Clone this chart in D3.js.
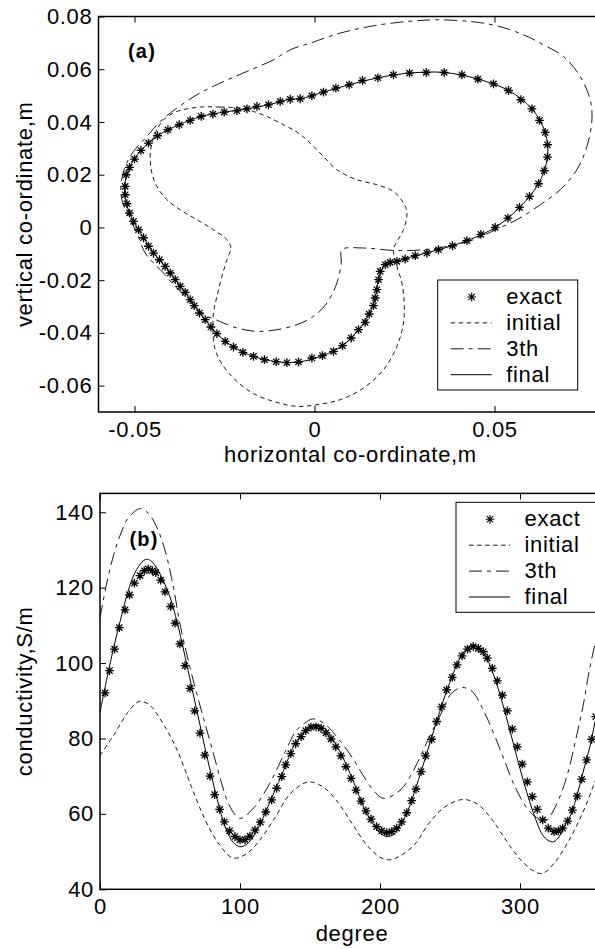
<!DOCTYPE html>
<html><head><meta charset="utf-8">
<script src="https://cdn.jsdelivr.net/npm/d3@7"></script>
<style>
body{margin:0;background:#fff}
svg{display:block}
text{font-family:"Liberation Sans",Arial,Helvetica,sans-serif;fill:#000}
</style></head>
<body>
<svg id="c" width="595" height="949"></svg>
<script>
// ---------- Panel (a): boundary contours (m) ----------
const exactX = [-0.00675,-0.00953,-0.01278,-0.0160,-0.01878,-0.02156,-0.02508,-0.02822,-0.03147,-0.03453,
-0.03758,-0.04072,-0.04361,-0.04611,-0.04822,-0.05,-0.05139,-0.05231,-0.05258,-0.05258,
-0.05211,-0.05139,-0.05028,-0.04889,-0.0475,-0.04611,-0.04472,-0.04306,-0.04147,-0.04008,
-0.03869,-0.03731,-0.03592,-0.03453,-0.03342,-0.03194,-0.03036,-0.02878,-0.02711,-0.02481,
-0.0225,-0.01989,-0.01694,-0.01389,-0.01064,-0.00767,-0.00444,-0.00072,0.00222,0.00528,
0.00778,0.01019,0.01222,0.01408,0.01519,0.01639,0.01686,0.01733,0.01778,0.01825,
0.01964,0.02103,0.02289,0.02519,0.02797,0.03122,0.03444,0.03833,0.04233,0.04622,
0.0502,0.05372,0.05694,0.05972,0.06222,0.06381,0.06472,0.06472,0.06408,0.0625,
0.06039,0.05733,0.05389,0.04972,0.04539,0.04094,0.03603,0.03103,0.02639,0.02194,
0.01761,0.01333,0.00964,0.00594,0.0025,-0.00072,-0.00397];
const exactY = [0.04861,0.04777,0.04652,0.04588,0.045,0.04425,0.04375,0.043,0.04209,0.04057,
0.03894,0.03704,0.03477,0.032,0.02919,0.02593,0.02275,0.01998,0.01555,0.0124,
0.00899,0.00546,0.00227,-0.00087,-0.00391,-0.00713,-0.00971,-0.01225,-0.01479,-0.01729,
-0.01983,-0.02237,-0.02464,-0.02741,-0.02969,-0.03245,-0.035,-0.03776,-0.0403,-0.04322,
-0.04535,-0.04739,-0.04891,-0.05016,-0.05092,-0.0513,-0.05103,-0.04952,-0.04864,-0.04701,
-0.04485,-0.04193,-0.03879,-0.03602,-0.03283,-0.02969,-0.02677,-0.02362,-0.01983,-0.01668,
-0.01414,-0.01327,-0.01289,-0.01198,-0.01073,-0.00971,-0.00846,-0.00694,-0.00504,-0.00265,
0,0.00356,0.00758,0.01175,0.01657,0.0215,0.02669,0.03136,0.03602,0.04057,
0.045,0.04842,0.05194,0.05448,0.05627,0.0579,0.05877,0.05877,0.05854,0.0579,
0.05676,0.05573,0.0541,0.05285,0.05134,0.04993,0.0488];

const initialX = [-0.03175,-0.02619,-0.02064,-0.01694,-0.01322,-0.00861,-0.00444,-0.00119,0.0025,0.00622,
0.01178,0.01733,0.02194,0.02472,0.02567,0.02472,0.02242,0.02194,0.02289,0.02428,
0.02492,0.02472,0.02289,0.01917,0.01361,0.00714,0.00067,-0.00489,-0.01139,-0.01694,
-0.02156,-0.02528,-0.02758,-0.02822,-0.02806,-0.02711,-0.02572,-0.02433,-0.02322,-0.02433,
-0.02806,-0.03267,-0.03731,-0.041,-0.04378,-0.04517,-0.04564,-0.04517,-0.04378,-0.04194,
-0.03822];
const initialY = [0.04565,0.04565,0.04527,0.04398,0.04209,0.03894,0.03579,0.032,0.02692,0.02188,
0.01809,0.01619,0.01365,0.00925,0.00546,-0.00087,-0.00656,-0.00921,-0.01479,-0.02108,
-0.02866,-0.03625,-0.04512,-0.05395,-0.06089,-0.06533,-0.06722,-0.06787,-0.06597,-0.06305,
-0.05839,-0.0527,-0.04637,-0.03879,-0.03245,-0.02616,-0.01858,-0.01225,-0.00781,-0.00466,
-0.00087,0.00292,0.00671,0.0105,0.01555,0.02063,0.02692,0.032,0.03704,0.04083,
0.04398];

const thirdX = [-0.00675,-0.01139,-0.01878,-0.02619,-0.03267,-0.03822,-0.04286,-0.04656,-0.05028,-0.05258,
-0.05378,-0.0535,-0.05167,-0.04933,-0.04703,-0.04472,-0.04194,-0.03917,-0.03592,-0.03314,
-0.03036,-0.02806,-0.02528,-0.02156,-0.016,-0.01044,-0.00489,-0.00028,0.00344,0.00622,
0.00742,0.00761,0.01361,0.02194,0.03028,0.03678,0.04417,0.04972,0.05622,0.06269,
0.06825,0.07289,0.07567,0.07706,0.07658,0.07381,0.06917,0.06361,0.05806,0.05067,
0.04325,0.034,0.02567,0.01639,0.00714,-0.00119];
const thirdY = [0.06737,0.06358,0.05915,0.05475,0.05031,0.04527,0.04019,0.0345,0.02882,0.02313,
0.01555,0.0105,0.00417,-0.00212,-0.00971,-0.0135,-0.01729,-0.02173,-0.02616,-0.03007,
-0.03348,-0.03462,-0.03625,-0.03814,-0.03943,-0.03879,-0.03689,-0.03374,-0.02866,-0.02108,
-0.0135,-0.00846,-0.00781,-0.00872,-0.00846,-0.0072,-0.00466,-0.00125,0.00292,0.00861,
0.01429,0.02188,0.03071,0.04083,0.04842,0.05725,0.06483,0.06927,0.07306,0.07647,
0.0781,0.07875,0.0781,0.07647,0.07371,0.06992];

const finalX = [-0.00675,-0.01278,-0.01878,-0.02508,-0.03147,-0.03758,-0.04361,-0.04822,-0.05139,-0.05275,
-0.05225,-0.05028,-0.0475,-0.04472,-0.04147,-0.03869,-0.03592,-0.03342,-0.03036,-0.02711,
-0.0225,-0.01694,-0.01064,-0.00444,0.00222,0.00778,0.01222,0.01519,0.01686,0.01778,
0.01964,0.02289,0.02797,0.03444,0.04233,0.0502,0.05694,0.06222,0.06472,0.06408,
0.06039,0.05389,0.04539,0.03603,0.02639,0.01761,0.00964,0.0025,-0.00397];
const finalY = [0.04861,0.04652,0.045,0.04375,0.04209,0.03894,0.03477,0.02919,0.02275,0.01555,
0.00899,0.00227,-0.00391,-0.00971,-0.01479,-0.01983,-0.02464,-0.02969,-0.035,-0.0403,
-0.04535,-0.04891,-0.05092,-0.05103,-0.04864,-0.04485,-0.03879,-0.03283,-0.02677,-0.01983,
-0.01414,-0.01289,-0.01073,-0.00846,-0.00504,0,0.00758,0.01657,0.02669,0.03602,
0.045,0.05194,0.05627,0.05877,0.05854,0.05676,0.0541,0.05134,0.0488];

const topXTicks = [-0.05, 0, 0.05];
const topXLabels = ["-0.05", "0", "0.05"];
const topYTicks = [-0.06, -0.04, -0.02, 0, 0.02, 0.04, 0.06, 0.08];
const topYLabels = ["-0.06", "-0.04", "-0.02", "0", "0.02", "0.04", "0.06", "0.08"];

// ---------- Panel (b): conductivity vs degree ----------
const exactDeg = [3.6,6.8,10.4,13.8,17.9,21.1,24.6,28.6,31.6,34.5,
37.4,39.8,43.4,46.4,50.5,53.6,57.1,60.7,64.3,67.6,
71.4,74.8,78.6,81.9,85.5,88.8,92.5,96.4,100,103.6,
107.1,110.7,114.5,118.4,122.6,126.2,129.8,132.7,136.3,139.8,
143.6,146.9,150.7,154.3,157.9,161.4,165,168.4,172.1,175.7,
179.3,182.9,186.4,190,193.6,197.6,201.2,204.8,208.4,211.9,
215.5,219.1,222.6,225.7,229.3,232.6,236.9,240.5,244.1,247.6,
251.6,255,258.6,262.6,266.6,270.2,273.8,276.6,280.2,283.8,
287.4,290.9,294.5,298.1,301.6,305.2,308.8,312.4,316.2,320.2,
324.3,327.4,330.5,334.1,337.4,340.9,344.1,347.6,351.2,354.1];
const exactVal = [92.1,98.0,103.7,109.4,114.1,118.1,121.2,123.2,124.5,125.0,
124.5,124.0,122.0,118.9,115.0,110.6,105.1,99.3,93.3,87.3,
81.4,75.6,70.0,65.1,61.2,57.9,55.5,54.0,53.1,53.2,
54.1,55.7,57.8,60.5,63.7,66.8,69.9,73.0,76.0,78.6,
80.5,82.1,83.0,83.1,82.7,81.5,79.9,77.8,75.4,72.5,
69.4,66.3,63.4,60.8,58.6,56.6,55.5,55.0,55.3,56.2,
57.9,60.3,63.5,66.6,71.2,75.4,79.8,84.5,88.4,92.9,
96.2,99.5,101.9,103.7,104.4,103.9,103.0,101.3,98.6,95.3,
91.5,87.3,82.5,77.8,73.2,68.5,64.6,61.2,58.4,56.2,
55.3,55.5,56.2,58.1,61.0,64.7,69.2,74.3,79.8,85.8];

const initDeg = [0,10,20,28,35,45,55,65,75,85,95,105,115,125,135,145,150,160,170,180,
190,200,207,215,225,235,245,255,261,270,280,290,300,310,316,325,335,345,355,360];
const initVal = [75.5,81,87,89.8,89,84,77,67.5,58.5,52,48.3,49.5,53.5,59,65,68,68.5,67,63,57.5,
52,48.5,47.8,49,52,57.5,61.5,63.5,63.8,62.5,58.5,53,48,44.8,44.2,47.2,53,60.5,70,75];

const thirdDeg = [0,5,10,15,20,29,35,40,46,52,57,63,69,75,81,87,92,100,110,118,
123,133,140,146,152,160,171,180,190,197,203,215,224,236,245,251,258,264,268,277,
287,296,306,313,319,324,330,335,340,345,350,355,360];
const thirdVal = [112,121.5,129,134.5,138.4,141,139.5,136.5,130.5,121,110.6,100.8,92,84,76,68,62.5,58.8,61.7,66,
69.3,77,82,84,85.2,84,79.6,75,69,65.5,64.1,66.5,71.6,81,87.6,92,93.5,93,91.5,85,
76,67.5,61,58.8,58.4,61,66,72,80,88.5,99,107,113];

const finalDeg = [0,5,10,15,20,25,30,33,36,40,45,50,55,60,65,70,75,80,85,90,
95,100,105,110,115,120,130,140,150,155,160,170,180,190,200,205,210,215,220,230,
240,250,260,267,275,280,285,290,295,300,305,310,316,320,324,328,332,336,340,345,350,355,360];
const finalVal = [87,96,104.5,112,119,124,126.8,127.5,127.2,125.5,122,117.5,111,103,94.5,86,77.5,69.5,62,56,
52.5,51.3,52,54.3,57.8,62,70.5,79,83.2,83.6,82.8,77.5,69.5,60.5,55,54,54.6,57.3,61,72,
84,95,103,104.8,102,98,92.5,86,79,72,65.5,59.8,54.5,53,52.6,54,57,59.5,64,71,78,87,96];

const botXTicks = [0, 100, 200, 300];
const botXLabels = ["0", "100", "200", "300"];
const botYTicks = [40, 60, 80, 100, 120, 140];
const botYLabels = ["40", "60", "80", "100", "120", "140"];

const legendNames = ["exact", "initial", "3th", "final"];

// ---------- drawing ----------
const svg = d3.select("#c");
const FONT = 22, LS = "0.7px";
const DASH_INIT = "4.5,3.5", DASH_THIRD = "13,5,4,5";
const starPath = "M-4.4,0H4.4M0,-4.4V4.4M-3.1,-3.1L3.1,3.1M-3.1,3.1L3.1,-3.1";

function zip(a, b) { return a.map((v, i) => [v, b[i]]); }

function panel(o) {
  const g = svg.append("g");
  const [x0, x1] = o.x.range(), [y1, y0] = o.y.range();
  g.append("clipPath").attr("id", o.id).append("rect")
    .attr("x", x0).attr("y", y0).attr("width", x1 - x0).attr("height", y1 - y0);
  const p = g.append("g").attr("clip-path", `url(#${o.id})`);
  const line = d3.line().x(d => o.x(d[0])).y(d => o.y(d[1])).curve(o.curve);
  p.append("path").attr("d", line(o.init)).attr("fill", "none").attr("stroke", "#000")
    .attr("stroke-width", 0.9).attr("stroke-dasharray", DASH_INIT);
  p.append("path").attr("d", line(o.third)).attr("fill", "none").attr("stroke", "#000")
    .attr("stroke-width", 0.9).attr("stroke-dasharray", DASH_THIRD);
  p.append("path").attr("d", line(o.fin)).attr("fill", "none").attr("stroke", "#000")
    .attr("stroke-width", 1);
  p.selectAll("path.star").data(o.exact).join("path").attr("class", "star")
    .attr("transform", d => `translate(${o.x(d[0])},${o.y(d[1])})`)
    .attr("d", starPath).attr("stroke", "#000").attr("stroke-width", 1.3).attr("fill", "none");

  const style = sel => {
    sel.select(".domain").remove();
    sel.attr("font-family", null).attr("font-size", null);
    sel.selectAll(".tick line").attr("stroke", "#000").attr("stroke-width", 1);
    sel.selectAll(".tick text").attr("font-size", FONT).attr("letter-spacing", LS).attr("fill", "#000");
  };
  g.append("g").attr("transform", `translate(0,${y1})`)
    .call(d3.axisBottom(o.x).tickValues(o.xt).tickFormat((d, i) => o.xl[i]).tickSize(-6).tickPadding(9)).call(style);
  g.append("g").attr("transform", `translate(0,${y0})`)
    .call(d3.axisTop(o.x).tickValues(o.xt).tickFormat("").tickSize(-6)).call(style);
  g.append("g").attr("transform", `translate(${x0},0)`)
    .call(d3.axisLeft(o.y).tickValues(o.yt).tickFormat((d, i) => o.yl[i]).tickSize(-6).tickPadding(6)).call(style);
  g.append("rect").attr("x", x0).attr("y", y0).attr("width", x1 - x0).attr("height", y1 - y0)
    .attr("fill", "none").attr("stroke", "#000").attr("stroke-width", 1.5);

  g.append("text").attr("x", (x0 + x1) / 2).attr("y", o.xlabY).attr("text-anchor", "middle")
    .attr("font-size", FONT).attr("letter-spacing", LS).text(o.xlab);
  g.append("text").attr("transform", `translate(32,${(y0 + y1) / 2}) rotate(-90)`).attr("text-anchor", "middle")
    .attr("font-size", FONT).attr("letter-spacing", LS).text(o.ylab);
  g.append("text").attr("x", o.tagX).attr("y", o.tagY).attr("font-size", 20).attr("font-weight", "bold")
    .attr("letter-spacing", "1.2px").text(o.tag);

  const L = g.append("g").attr("transform", `translate(${o.legX},${o.legY})`);
  L.append("rect").attr("x", 0).attr("y", 0).attr("width", 140).attr("height", 110)
    .attr("fill", "#fff").attr("stroke", "#000").attr("stroke-width", 1);
  legendNames.forEach((name, i) => {
    const by = 24 + i * 25.9, cy = by - 7;
    L.append("text").attr("x", 68.5).attr("y", by).attr("font-size", FONT).attr("letter-spacing", LS).text(name);
    if (i === 0) {
      L.append("path").attr("transform", `translate(34,${cy})`).attr("d", starPath)
        .attr("stroke", "#000").attr("stroke-width", 1.1).attr("fill", "none");
    } else {
      L.append("line").attr("x1", 13).attr("x2", 54).attr("y1", cy).attr("y2", cy)
        .attr("stroke", "#000").attr("stroke-width", i === 3 ? 1 : 0.9)
        .attr("stroke-dasharray", i === 1 ? DASH_INIT : i === 2 ? DASH_THIRD : null);
    }
  });
}

panel({
  id: "clipA",
  x: d3.scaleLinear().domain([-0.06, 0.08]).range([98.5, 602.5]),
  y: d3.scaleLinear().domain([-0.07, 0.08]).range([412, 16.5]),
  curve: d3.curveCatmullRomClosed.alpha(0.5),
  exact: zip(exactX, exactY), init: zip(initialX, initialY),
  third: zip(thirdX, thirdY), fin: zip(finalX, finalY),
  xt: topXTicks, xl: topXLabels, yt: topYTicks, yl: topYLabels,
  xlab: "horizontal co-ordinate,m", xlabY: 462, ylab: "vertical co-ordinate,m",
  tag: "(a)", tagX: 128, tagY: 58, legX: 437.7, legY: 280
});

panel({
  id: "clipB",
  x: d3.scaleLinear().domain([0, 360]).range([100, 604]),
  y: d3.scaleLinear().domain([40, 145]).range([889.3, 493.4]),
  curve: d3.curveCatmullRom.alpha(0.5),
  exact: zip(exactDeg, exactVal), init: zip(initDeg, initVal),
  third: zip(thirdDeg, thirdVal), fin: zip(finalDeg, finalVal),
  xt: botXTicks, xl: botXLabels, yt: botYTicks, yl: botYLabels,
  xlab: "degree", xlabY: 941, ylab: "conductivity,S/m",
  tag: "(b)", tagX: 129.5, tagY: 546, legX: 456, legY: 502.3
});
</script>
</body></html>
